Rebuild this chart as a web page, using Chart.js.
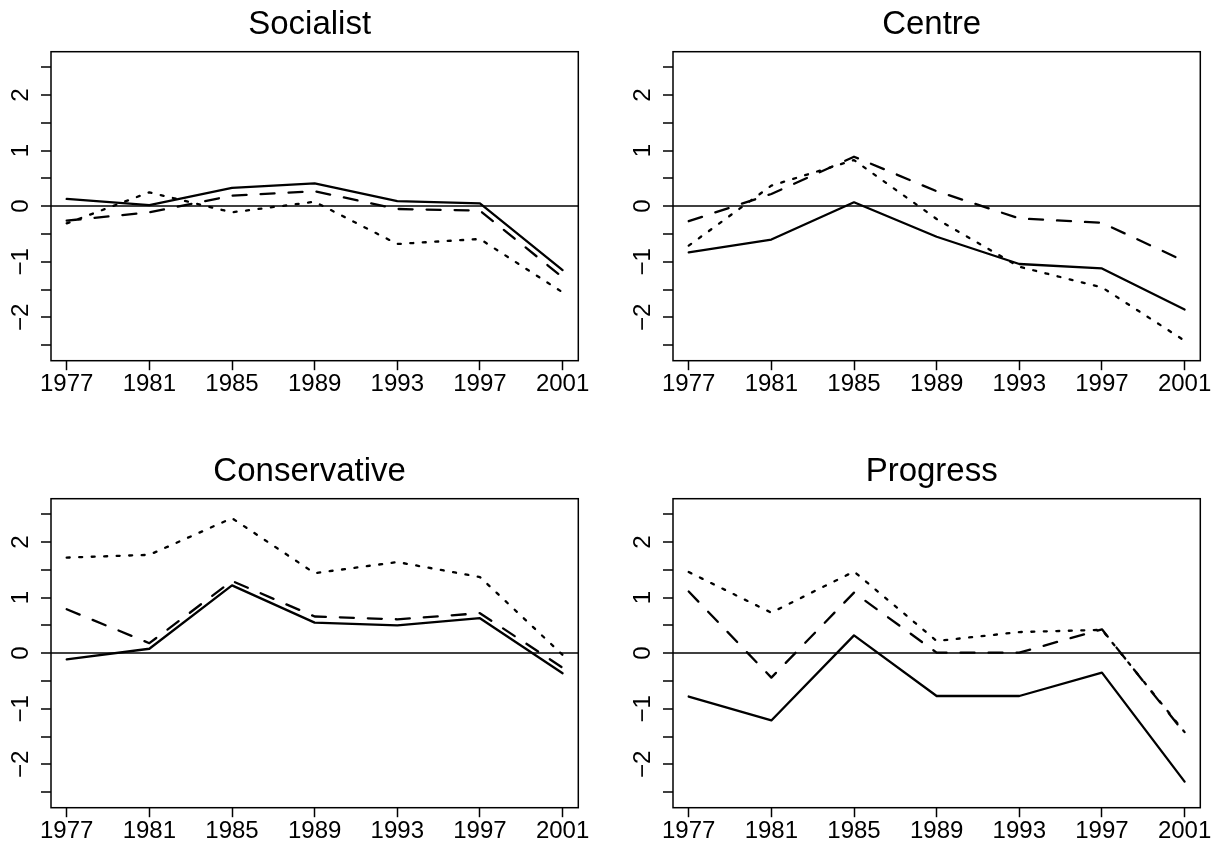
<!DOCTYPE html>
<html>
<head>
<meta charset="utf-8">
<script src="https://cdn.jsdelivr.net/npm/chart.js@4"></script>
<style>
  html, body { margin: 0; padding: 0; background: #fff; overflow: hidden; }
  #wrap { position: relative; width: 1222px; height: 843px; overflow: hidden; }
  #wrap canvas { position: absolute; }
</style>
</head>
<body>
<div id="wrap">
  <canvas id="p0" width="600" height="421" style="left:0px;top:0px"></canvas>
  <canvas id="p1" width="600" height="421" style="left:622.3px;top:0px"></canvas>
  <canvas id="p2" width="600" height="421" style="left:0px;top:446.6px"></canvas>
  <canvas id="p3" width="600" height="421" style="left:622.3px;top:446.6px"></canvas>
</div>
<script>
// Dados
const years = [1977, 1981, 1985, 1989, 1993, 1997, 2001];
const yTickValues = [-2.5, -2, -1.5, -1, -0.5, 0, 0.5, 1, 1.5, 2, 2.5];
const yLabelValues = [-2, -1, 0, 1, 2];
const panelTitles = ['Socialist', 'Centre', 'Conservative', 'Progress'];

const socialistSolid  = [0.13, 0.02, 0.33, 0.41, 0.09, 0.05, -1.15];
const socialistDashed = [-0.26, -0.11, 0.19, 0.27, -0.05, -0.08, -1.28];
const socialistDotted = [-0.31, 0.25, -0.11, 0.08, -0.68, -0.59, -1.55];

const centreSolid  = [-0.83, -0.60, 0.07, -0.55, -1.04, -1.12, -1.86];
const centreDashed = [-0.27, 0.22, 0.89, 0.27, -0.22, -0.30, -0.99];
const centreDotted = [-0.71, 0.37, 0.83, -0.23, -1.09, -1.46, -2.42];

const conservativeSolid  = [-0.11, 0.08, 1.22, 0.55, 0.50, 0.63, -0.36];
const conservativeDashed = [0.79, 0.18, 1.30, 0.66, 0.61, 0.72, -0.26];
const conservativeDotted = [1.72, 1.77, 2.43, 1.44, 1.64, 1.37, -0.03];

const progressSolid  = [-0.78, -1.21, 0.32, -0.77, -0.77, -0.35, -2.31];
const progressDashed = [1.11, -0.44, 1.09, 0.01, 0.01, 0.43, -1.44];
const progressDotted = [1.46, 0.73, 1.47, 0.22, 0.38, 0.42, -1.42];

const panelSeries = [
  [socialistSolid, socialistDashed, socialistDotted],
  [centreSolid, centreDashed, centreDotted],
  [conservativeSolid, conservativeDashed, conservativeDotted],
  [progressSolid, progressDashed, progressDotted]
];

const FONT = '"Liberation Sans", Arial, Helvetica, sans-serif';
const LINE_DASH = [[], [14, 14], [3, 9.5]];

// Rótulos do eixo y girados (estilo R) + moldura
const rBoxPlugin = {
  id: 'rBox',
  afterDraw(chart) {
    const ctx = chart.ctx;
    const area = chart.chartArea;
    const yScale = chart.scales.y;
    ctx.save();
    ctx.font = '24px ' + FONT;
    ctx.fillStyle = '#000';
    ctx.textAlign = 'center';
    ctx.textBaseline = 'middle';
    yLabelValues.forEach(function(v) {
      ctx.save();
      ctx.translate(area.left - 30, yScale.getPixelForValue(v));
      ctx.rotate(-Math.PI / 2);
      ctx.fillText(v < 0 ? '\u2212' + Math.abs(v) : String(v), 0, 0);
      ctx.restore();
    });
    ctx.lineWidth = 1.5;
    ctx.strokeStyle = '#000';
    ctx.strokeRect(area.left, area.top, area.right - area.left, area.bottom - area.top);
    ctx.restore();
  }
};

function makePanel(id, title, series) {
  const datasets = series.map(function(values, i) {
    return {
      data: values.map(function(v, j) { return { x: years[j], y: v }; }),
      borderColor: '#000',
      borderWidth: 2.3,
      borderDash: LINE_DASH[i],
      borderCapStyle: 'round',
      borderJoinStyle: 'round',
      pointRadius: 0,
      tension: 0,
      fill: false
    };
  });

  new Chart(document.getElementById(id), {
    type: 'line',
    data: { datasets: datasets },
    options: {
      responsive: false,
      animation: false,
      devicePixelRatio: 1,
      layout: { padding: { left: 41, right: 21.7, top: 0, bottom: 22 } },
      plugins: {
        legend: { display: false },
        tooltip: { enabled: false },
        title: {
          display: true,
          text: title,
          color: '#000',
          font: { family: FONT, size: 33, weight: 'normal', lineHeight: 1.2 },
          padding: { top: 4.9, bottom: 7.2 }
        }
      },
      scales: {
        x: {
          type: 'linear',
          min: 1976.24,
          max: 2001.76,
          afterBuildTicks: function(scale) {
            scale.ticks = years.map(function(v) { return { value: v }; });
          },
          ticks: {
            color: '#000',
            padding: 0,
            maxRotation: 0,
            font: { family: FONT, size: 24 },
            callback: function(v) { return String(v); }
          },
          grid: {
            drawOnChartArea: false,
            tickLength: 9.5,
            tickColor: '#000',
            tickWidth: 1.5
          },
          border: { display: false }
        },
        y: {
          type: 'linear',
          min: -2.78,
          max: 2.78,
          afterBuildTicks: function(scale) {
            scale.ticks = yTickValues.map(function(v) { return { value: v }; });
          },
          ticks: { display: false },
          grid: {
            color: function(c) {
              return c.tick && c.tick.value === 0 ? '#404040' : 'rgba(0,0,0,0)';
            },
            lineWidth: 2,
            tickLength: 10,
            tickColor: '#000',
            tickWidth: 1.5
          },
          border: { display: false }
        }
      }
    },
    plugins: [rBoxPlugin]
  });
}

panelTitles.forEach(function(t, i) {
  makePanel('p' + i, t, panelSeries[i]);
});
</script>
</body>
</html>
